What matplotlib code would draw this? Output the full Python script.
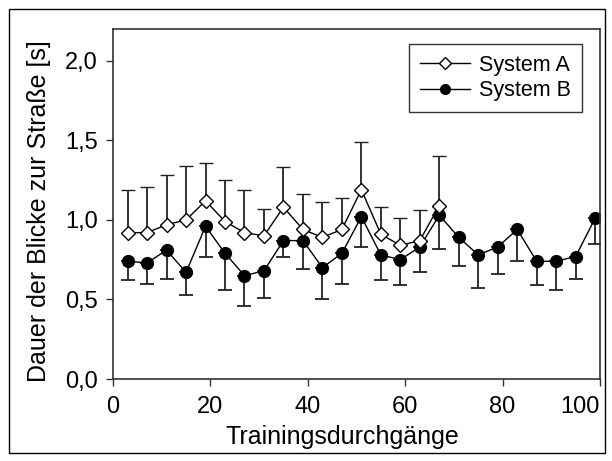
import matplotlib
matplotlib.use("Agg")
import matplotlib.pyplot as plt
from matplotlib.patches import Rectangle
from matplotlib.lines import Line2D

plt.rcParams['font.family'] = ['Liberation Sans', 'DejaVu Sans']

# Trainingsdurchgaenge (x positions of the means)
runs_a = [3, 7, 11, 15, 19, 23, 27, 31, 35, 39, 43, 47, 51, 55, 59, 63, 67]
runs_b = [3, 7, 11, 15, 19, 23, 27, 31, 35, 39, 43, 47, 51, 55, 59, 63, 67,
          71, 75, 79, 83, 87, 91, 95, 99]

# System A: mean and upper error bar end
mean_a = [0.92, 0.92, 0.97, 1.00, 1.12, 0.99, 0.92, 0.90, 1.08, 0.94, 0.89, 0.94,
          1.19, 0.91, 0.84, 0.87, 1.09]
top_a = [1.19, 1.21, 1.28, 1.34, 1.36, 1.25, 1.19, 1.07, 1.33, 1.16, 1.11, 1.14,
         1.49, 1.08, 1.01, 1.06, 1.40]

# System B: mean and lower error bar end
mean_b = [0.74, 0.73, 0.81, 0.67, 0.96, 0.79, 0.65, 0.68, 0.87, 0.87, 0.70, 0.79,
          1.02, 0.78, 0.75, 0.83, 1.03, 0.89, 0.78, 0.83, 0.94, 0.74, 0.74, 0.77, 1.01]
low_b = [0.62, 0.60, 0.63, 0.53, 0.77, 0.56, 0.46, 0.51, 0.77, 0.69, 0.50, 0.60,
         0.83, 0.62, 0.59, 0.67, 0.82, 0.71, 0.57, 0.66, 0.74, 0.59, 0.56, 0.63, 0.85]

yticks = [0.0, 0.5, 1.0, 1.5, 2.0]
ytick_labels = ['0,0', '0,5', '1,0', '1,5', '2,0']
xticks = [0, 20, 40, 60, 80, 100]

fig = plt.figure(figsize=(6.12, 4.61), dpi=100)
fig.patches.append(Rectangle((9/612, 8/461), 596/612, 444/461, transform=fig.transFigure,
                             fill=False, edgecolor='black', linewidth=1.0))
ax = fig.add_axes([113/612, 1 - 379/461, 487/612, 350/461])

err_a = [[0]*len(mean_a), [t - m for t, m in zip(top_a, mean_a)]]
err_b = [[m - l for m, l in zip(mean_b, low_b)], [0]*len(mean_b)]

ax.errorbar(runs_b, mean_b, yerr=err_b, color='black', ecolor='#222222', elinewidth=1.3,
            capsize=5, capthick=1.3, linewidth=1.0, marker='o', markersize=8.5,
            markerfacecolor='black', markeredgecolor='black', zorder=2)
ax.errorbar(runs_a, mean_a, yerr=err_a, color='black', ecolor='#222222', elinewidth=1.3,
            capsize=5, capthick=1.3, linewidth=1.0, marker='D', markersize=7,
            markerfacecolor='white', markeredgecolor='black', markeredgewidth=1.0,
            zorder=3)

ax.set_xlim(0, 100)
ax.set_ylim(0, 2.2)
ax.set_xticks(xticks)
ax.set_yticks(yticks)
ax.set_yticklabels(ytick_labels)
ax.tick_params(direction='out', length=5, width=1, labelsize=17, color='#333333')
ax.tick_params(axis='x', pad=7)
ax.tick_params(axis='y', pad=6)
for s in ax.spines.values():
    s.set_color('#333333')
    s.set_linewidth(1.2)
# last x label would run past the figure edge, so pull it in
ax.get_xticklabels()[-1].set_horizontalalignment('right')

ax.set_xlabel('Trainingsdurchgänge', fontsize=18)
ax.set_ylabel('Dauer der Blicke zur Straße [s]', fontsize=18)
ax.xaxis.set_label_coords(0.47, -0.13)
ax.yaxis.set_label_coords(-0.128, 0.48)

handles = [Line2D([], [], color='black', lw=1.0, marker='D', markersize=6,
                  markerfacecolor='white', markeredgecolor='black'),
           Line2D([], [], color='black', lw=1.0, marker='o', markersize=7,
                  markerfacecolor='black')]
leg = ax.legend(handles, ['System A', 'System B'], loc='upper right',
                bbox_to_anchor=(0.963, 0.957), borderaxespad=0,
                fontsize=15.5, frameon=True, fancybox=False, edgecolor='black',
                handlelength=2.3, handletextpad=0.45, borderpad=0.5, labelspacing=0.2)
leg.get_frame().set_linewidth(1.0)

fig.savefig('out.png', dpi=100)
